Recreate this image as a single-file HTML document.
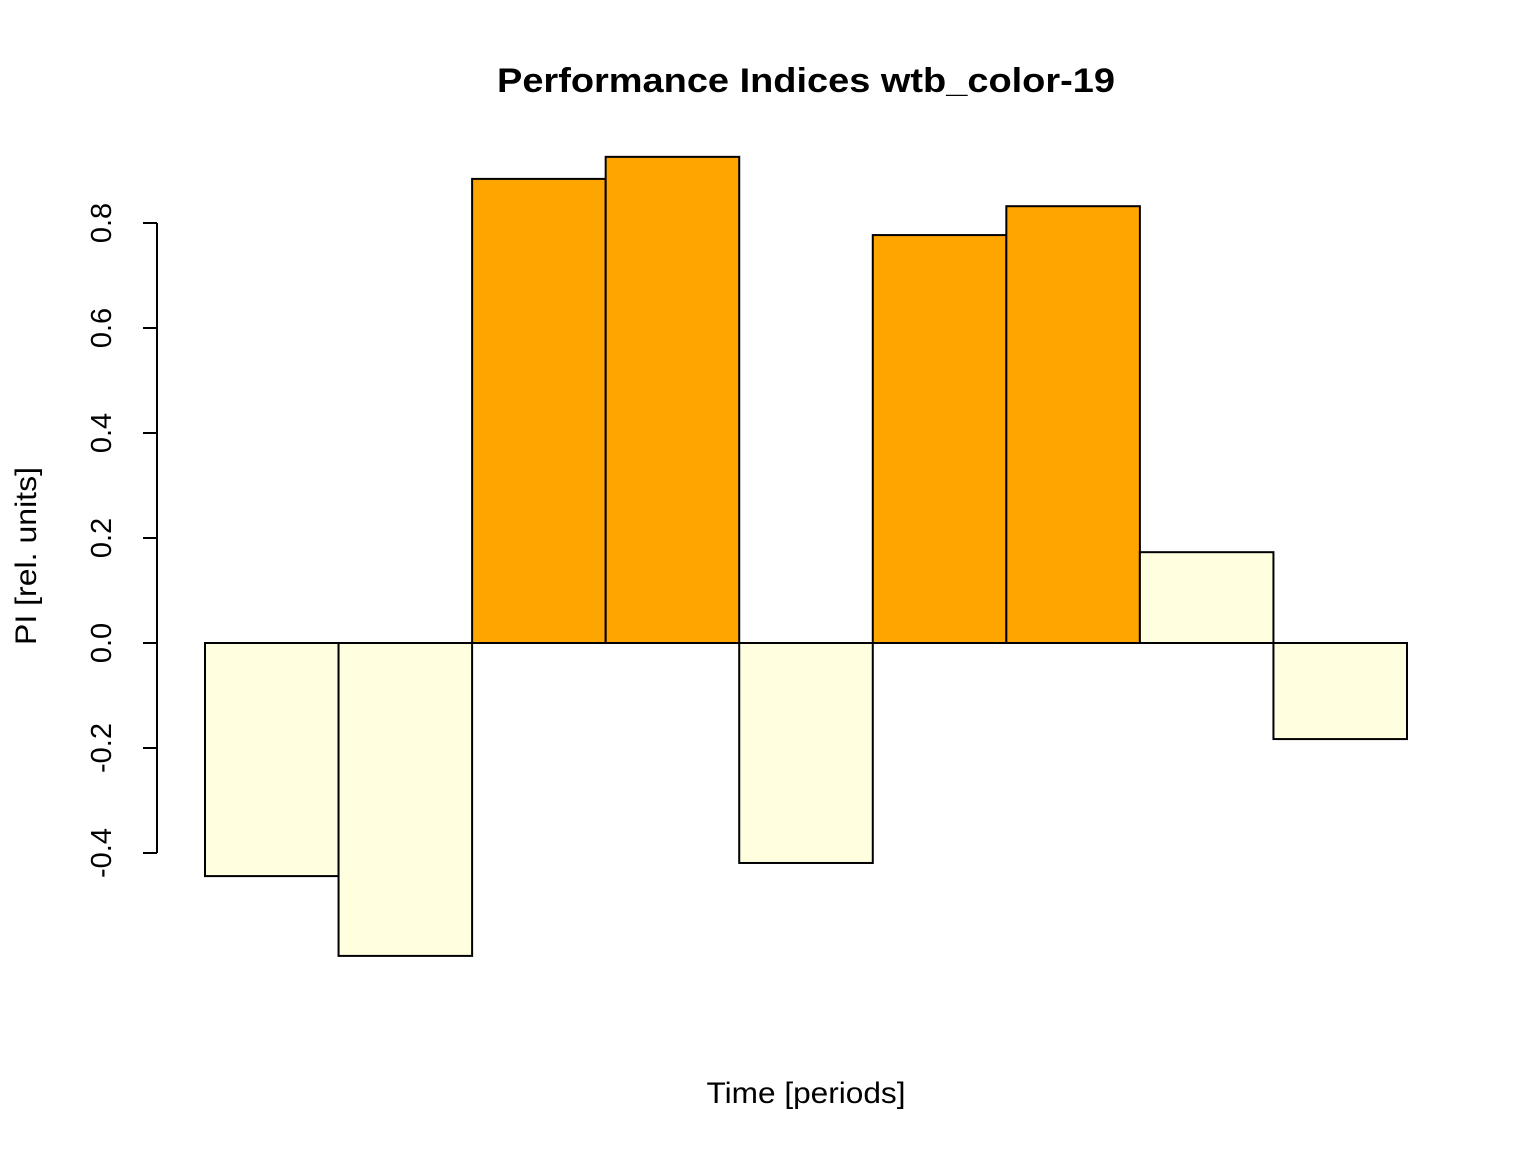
<!DOCTYPE html>
<html><head><meta charset="utf-8"><style>body{margin:0;background:#fff}svg{display:block}text{font-family:"Liberation Sans",Arial,sans-serif}</style></head>
<body>
<svg id="chart" width="1536" height="1152" viewBox="0 0 1536 1152">
<rect width="1536" height="1152" fill="#fff"/>
<text x="806" y="92" text-anchor="middle" font-size="34" font-weight="bold" textLength="618" lengthAdjust="spacingAndGlyphs">Performance Indices wtb_color-19</text>
<text x="806" y="1103" text-anchor="middle" font-size="30" textLength="199" lengthAdjust="spacingAndGlyphs">Time [periods]</text>
<text transform="translate(36,556) rotate(-90)" text-anchor="middle" font-size="30" textLength="178" lengthAdjust="spacingAndGlyphs">PI [rel. units]</text>
<g id="bars"></g>
<g id="yaxis"></g>
</svg>
<script>
const categories = [1,2,3,4,5,6,7,8,9];
const values = [-0.444,-0.596,0.884,0.926,-0.419,0.777,0.832,0.173,-0.183];
const tickValues = [-0.4,-0.2,0,0.2,0.4,0.6,0.8];
const tickLabels = ["-0.4","-0.2","0.0","0.2","0.4","0.6","0.8"];
const NS="http://www.w3.org/2000/svg";
const y0=643, pxPer=525;
const y = v => y0 - v*pxPer;
const xL=205, xR=1407, bw=(xR-xL)/categories.length;
const x = i => xL + i*bw;
const bars=document.getElementById('bars');
categories.forEach((c,i)=>{
  const v=values[i];
  const r=document.createElementNS(NS,'rect');
  
  
  r.setAttribute('x',x(i)); r.setAttribute('width',bw);
  r.setAttribute('y',Math.min(y(v),y0)); r.setAttribute('height',Math.abs(y(v)-y0));
  r.setAttribute('fill', v>0.5?'#FFA500':'#FFFFE0');
  r.setAttribute('stroke','#000'); r.setAttribute('stroke-width','2');
  bars.appendChild(r);
});
const ax=document.getElementById('yaxis');
const line=document.createElementNS(NS,'line');


line.setAttribute('x1',157);line.setAttribute('x2',157);
line.setAttribute('y1',y(tickValues[tickValues.length-1]));line.setAttribute('y2',y(tickValues[0]));
line.setAttribute('stroke','#000');line.setAttribute('stroke-width','2');
ax.appendChild(line);
tickValues.forEach((t,i)=>{
  const tk=document.createElementNS(NS,'line');
  
  
  tk.setAttribute('x1',143);tk.setAttribute('x2',157);
  tk.setAttribute('y1',y(t));tk.setAttribute('y2',y(t));
  tk.setAttribute('stroke','#000');tk.setAttribute('stroke-width','2');
  ax.appendChild(tk);
  const tx=document.createElementNS(NS,'text');
  
  
  tx.setAttribute('transform','translate(111,'+y(t)+') rotate(-90)');
  tx.setAttribute('text-anchor','middle');
  tx.setAttribute('font-size','29');
  tx.textContent=tickLabels[i];
  ax.appendChild(tx);
});
</script>
</body></html>
